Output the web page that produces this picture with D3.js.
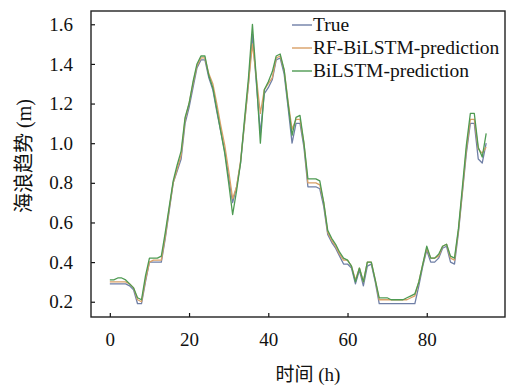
<!DOCTYPE html>
<html>
<head>
<meta charset="utf-8">
<script src="https://cdn.jsdelivr.net/npm/d3@7"></script>
<style>
  html, body { margin: 0; padding: 0; background: #fff; }
  svg text { font-family: "Liberation Serif", "Times New Roman", "Noto Sans CJK SC", serif; fill: #111; }
</style>
</head>
<body>
<div id="chart"></div>
<script>
// hours 0..95
const hours = d3.range(0, 96);

const trueVals = [
    0.29, 0.29, 0.29, 0.29, 0.29, 0.28, 0.26, 0.19, 0.19, 0.30,
    0.40, 0.40, 0.40, 0.40, 0.52, 0.66, 0.80, 0.86, 0.92, 1.10,
    1.18, 1.28, 1.38, 1.42, 1.42, 1.33, 1.27, 1.16, 1.06, 0.96,
    0.83, 0.70, 0.78, 0.90, 1.10, 1.30, 1.55, 1.30, 1.05, 1.25,
    1.28, 1.32, 1.42, 1.43, 1.35, 1.18, 1.00, 1.10, 1.10, 0.98,
    0.78, 0.78, 0.78, 0.77, 0.68, 0.54, 0.50, 0.47, 0.43, 0.39,
    0.39, 0.37, 0.29, 0.36, 0.28, 0.38, 0.39, 0.30, 0.19, 0.19,
    0.19, 0.19, 0.19, 0.19, 0.19, 0.19, 0.19, 0.19, 0.28, 0.38,
    0.46, 0.40, 0.40, 0.42, 0.47, 0.48, 0.40, 0.39, 0.55, 0.75,
    0.95, 1.10, 1.10, 0.92, 0.90, 1.00
];
const rfVals = [
    0.30, 0.30, 0.30, 0.30, 0.30, 0.29, 0.27, 0.21, 0.20, 0.31,
    0.40, 0.41, 0.41, 0.41, 0.53, 0.67, 0.80, 0.87, 0.94, 1.12,
    1.20, 1.30, 1.39, 1.43, 1.43, 1.35, 1.30, 1.20, 1.09, 0.99,
    0.86, 0.72, 0.78, 0.91, 1.10, 1.30, 1.50, 1.33, 1.15, 1.27,
    1.30, 1.33, 1.43, 1.44, 1.37, 1.21, 1.07, 1.12, 1.12, 1.00,
    0.80, 0.80, 0.80, 0.79, 0.70, 0.55, 0.51, 0.48, 0.44, 0.41,
    0.41, 0.38, 0.31, 0.37, 0.30, 0.40, 0.40, 0.31, 0.21, 0.21,
    0.21, 0.21, 0.21, 0.21, 0.21, 0.21, 0.22, 0.23, 0.30, 0.39,
    0.47, 0.42, 0.42, 0.43, 0.48, 0.49, 0.42, 0.41, 0.56, 0.76,
    0.97, 1.12, 1.12, 0.97, 0.95, 0.98
];
const bilstmVals = [
    0.31, 0.31, 0.32, 0.32, 0.31, 0.29, 0.27, 0.22, 0.21, 0.33,
    0.42, 0.42, 0.42, 0.43, 0.55, 0.68, 0.81, 0.89, 0.96, 1.13,
    1.20, 1.31, 1.40, 1.44, 1.44, 1.34, 1.28, 1.17, 1.06, 0.95,
    0.80, 0.64, 0.76, 0.90, 1.12, 1.33, 1.60, 1.32, 1.00, 1.27,
    1.31, 1.36, 1.44, 1.45, 1.37, 1.20, 1.04, 1.13, 1.14, 1.00,
    0.82, 0.82, 0.82, 0.81, 0.70, 0.56, 0.52, 0.49, 0.45, 0.42,
    0.41, 0.38, 0.30, 0.37, 0.30, 0.40, 0.40, 0.31, 0.22, 0.22,
    0.22, 0.21, 0.21, 0.21, 0.21, 0.22, 0.23, 0.24, 0.30, 0.39,
    0.48, 0.42, 0.42, 0.44, 0.48, 0.49, 0.43, 0.42, 0.57, 0.78,
    0.99, 1.15, 1.15, 0.98, 0.93, 1.05
];

const seriesNames = ["True", "RF-BiLSTM-prediction", "BiLSTM-prediction"];
const seriesColors = ["#6f7fa6", "#d9a066", "#4e9a52"];
const xTicks = [0, 20, 40, 60, 80];
const yTicks = [0.2, 0.4, 0.6, 0.8, 1.0, 1.2, 1.4, 1.6];

const W = 511, H = 385;
const margin = { top: 11, right: 6, bottom: 68, left: 91 };
const innerW = W - margin.left - margin.right;
const innerH = H - margin.top - margin.bottom;

const svg = d3.select("#chart")
    .append("svg")
    .attr("width", W)
    .attr("height", H);
const graph = svg.append("g")
    .attr("transform", `translate(${margin.left},${margin.top})`);

const x = d3.scaleLinear().domain([-4.75, 99.75]).range([0, innerW]);
const y = d3.scaleLinear().domain([0.123, 1.667]).range([innerH, 0]);

// axes, ticks pointing inward
const xAxis = graph.append("g")
    .attr("transform", `translate(0,${innerH})`)
    .call(d3.axisBottom(x).tickValues(xTicks).tickSize(-4).tickFormat(d3.format("d")));
xAxis.select(".domain").remove();
xAxis.selectAll(".tick line").attr("stroke", "#111").attr("stroke-width", 1.2);
xAxis.selectAll(".tick text")
    .attr("y", 16)
    .attr("font-size", "19px");

const yAxis = graph.append("g")
    .call(d3.axisLeft(y).tickValues(yTicks).tickSize(-4).tickFormat(d3.format(".1f")));
yAxis.select(".domain").remove();
yAxis.selectAll(".tick line").attr("stroke", "#111").attr("stroke-width", 1.2);
yAxis.selectAll(".tick text")
    .attr("x", -18)
    .attr("font-size", "19px");

// frame
graph.append("rect")
    .attr("x", 0).attr("y", 0)
    .attr("width", innerW).attr("height", innerH)
    .attr("fill", "none")
    .attr("stroke", "#222")
    .attr("stroke-width", 1.4);

const line = d3.line()
    .x((d, i) => x(hours[i]))
    .y(d => y(d));

[trueVals, rfVals, bilstmVals].forEach((vals, k) => {
    graph.append("path")
        .datum(vals)
        .attr("fill", "none")
        .attr("stroke", seriesColors[k])
        .attr("stroke-width", 1.3)
        .attr("stroke-linejoin", "round")
        .attr("d", line);
});

// legend
const legend = graph.append("g")
    .attr("transform", `translate(${292 - margin.left},${25 - margin.top})`);
seriesNames.forEach((name, k) => {
    const row = legend.append("g").attr("transform", `translate(0,${k * 23})`);
    row.append("line")
        .attr("x1", 0).attr("x2", 20)
        .attr("stroke", seriesColors[k])
        .attr("stroke-width", 1.4);
    row.append("text")
        .attr("x", 21)
        .attr("dy", "0.33em")
        .attr("font-size", "19.5px")
        .text(name);
});

// axis titles
svg.append("text")
    .attr("x", margin.left + x(50))
    .attr("y", 381)
    .attr("text-anchor", "middle")
    .attr("font-size", "19px")
    .text("时间 (h)");

svg.append("text")
    .attr("transform", `translate(31,${margin.top + innerH / 2 - 8}) rotate(-90)`)
    .attr("text-anchor", "middle")
    .attr("font-size", "20px")
    .text("海浪趋势 (m)");
</script>
</body>
</html>
